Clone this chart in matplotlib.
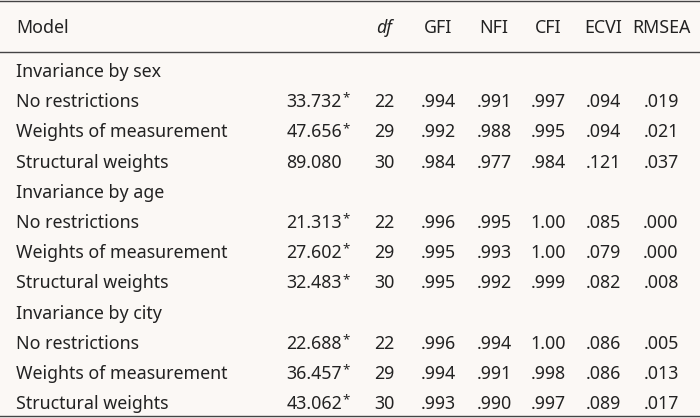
import matplotlib.pyplot as plt

headers = ["Model", "", "df", "GFI", "NFI", "CFI", "ECVI", "RMSEA"]
groups = ["Invariance by sex", "Invariance by age", "Invariance by city"]
models = ["No restrictions", "Weights of measurement", "Structural weights"]
chi2 = [["33.732", "47.656", "89.080"], ["21.313", "27.602", "32.483"], ["22.688", "36.457", "43.062"]]
star = [[True, True, False], [True, True, True], [True, True, True]]
df = [["22", "29", "30"], ["22", "29", "30"], ["22", "29", "30"]]
gfi = [[".994", ".992", ".984"], [".996", ".995", ".995"], [".996", ".994", ".993"]]
nfi = [[".991", ".988", ".977"], [".995", ".993", ".992"], [".994", ".991", ".990"]]
cfi = [[".997", ".995", ".984"], ["1.00", "1.00", ".999"], ["1.00", ".998", ".997"]]
ecvi = [[".094", ".094", ".121"], [".085", ".079", ".082"], [".086", ".086", ".089"]]
rmsea = [[".019", ".021", ".037"], [".000", ".000", ".008"], [".005", ".013", ".017"]]

bg = "#fbf8f5"
fig = plt.figure(figsize=(7, 4.18), dpi=100, facecolor=bg)
ax = fig.add_axes([0, 0, 1, 1], facecolor=bg)
ax.set_xlim(0, 700); ax.set_ylim(418, 0); ax.axis("off")
fs = 12.8
fam = "Noto Sans"
col = "#222222"
ax.axhline(1, color="#444", lw=1)
ax.axhline(52, color="#444", lw=1)
ax.axhline(416, color="#444", lw=1)
cx = [384, 438, 494, 548, 603, 661]
ax.text(16, 28, headers[0], fontsize=fs, family=fam, va="center", color=col)
ax.text(cx[0], 28, headers[2], fontsize=fs, family=fam, va="center", ha="center", style="italic", color=col)
for h, x in zip(headers[3:], cx[1:]):
    ax.text(x, 28, h, fontsize=fs, family=fam, va="center", ha="center", color=col)
y = 72
step = 30.2
for g in range(3):
    ax.text(16, y, groups[g], fontsize=fs, family=fam, va="center", color=col)
    y += step
    for m in range(3):
        ax.text(16, y, models[m], fontsize=fs, family=fam, va="center", color=col)
        ax.text(342, y, chi2[g][m], fontsize=fs, family=fam, va="center", ha="right", color=col)
        if star[g][m]:
            ax.text(342, y - 4, "*", fontsize=fs * 0.75, family=fam, va="center", ha="left", color=col)
        vals = [df[g][m], gfi[g][m], nfi[g][m], cfi[g][m], ecvi[g][m], rmsea[g][m]]
        for v, x in zip(vals, cx):
            ax.text(x, y, v, fontsize=fs, family=fam, va="center", ha="center", color=col)
        y += step
fig.savefig("out.png", dpi=100, facecolor=bg)
